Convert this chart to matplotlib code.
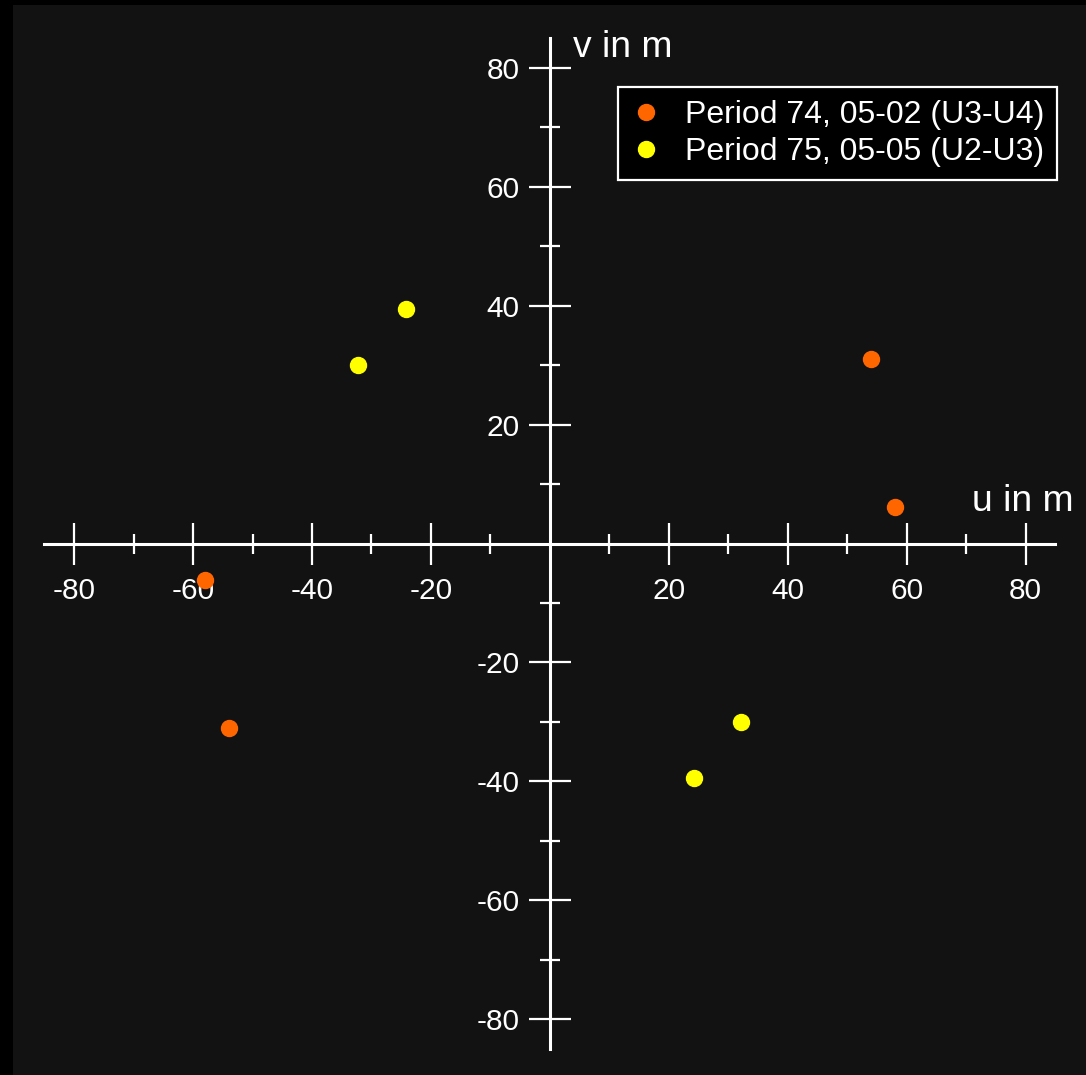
import matplotlib.pyplot as plt
import numpy as np

plt.rcParams["font.family"] = ["Liberation Sans", "DejaVu Sans"]
plt.rcParams["axes.unicode_minus"] = False

# uv coverage, baselines in metres
u_p74 = [54.0, 58.0, -58.0, -54.0]
v_p74 = [31.1, 6.1, -6.1, -31.1]
u_p75 = [-24.2, -32.2, 24.2, 32.2]
v_p75 = [39.5, 30.1, -39.5, -30.1]

labels = ["Period 74, 05-02 (U3-U4)", "Period 75, 05-05 (U2-U3)"]
major_ticks = [-80, -60, -40, -20, 20, 40, 60, 80]
minor_ticks = [-70, -50, -30, -10, 10, 30, 50, 70]

W, H = 1086, 1075
fig = plt.figure(figsize=(W / 100, H / 100), dpi=100, facecolor="black")
ax = fig.add_axes([13 / W, 0, 1 - 13 / W, 1 - 5 / H])
ax.set_facecolor("#121212")

ax.plot(u_p74, v_p74, "o", color="#ff6600", ms=11.5, label=labels[0], zorder=3)
ax.plot(u_p75, v_p75, "o", color="#ffff00", ms=11.5, label=labels[1], zorder=3)

ax.set_xlim(-90.27, 90.13)
ax.set_ylim(-89.42, 90.6)

for side in ["top", "right"]:
    ax.spines[side].set_visible(False)
for side in ["left", "bottom"]:
    ax.spines[side].set_position(("data", 0))
    ax.spines[side].set_bounds(-85, 85)
    ax.spines[side].set_color("white")
    ax.spines[side].set_linewidth(2.2)

ax.set_xticks(major_ticks)
ax.set_yticks(major_ticks)
ax.set_xticks(minor_ticks, minor=True)
ax.set_yticks(minor_ticks, minor=True)
ax.tick_params(which="major", direction="inout", length=30, width=1.6,
               color="white", labelcolor="white", labelsize=21.5)
ax.tick_params(which="minor", direction="inout", length=15, width=1.6, color="white")
ax.tick_params(axis="x", which="major", pad=9)
ax.tick_params(axis="y", which="major", pad=7)

ax.text(3.9, 81.8, "v in m", color="white", fontsize=26.8, ha="left", va="baseline")
ax.text(71.0, 5.5, "u in m", color="white", fontsize=26.8, ha="left", va="baseline")

leg = ax.legend(loc="upper right", bbox_to_anchor=(1057 / W, 1 - 87 / H),
                bbox_transform=fig.transFigure, borderaxespad=0, fontsize=23,
                numpoints=1, fancybox=False, framealpha=1, facecolor="black",
                edgecolor="white", borderpad=0.4, handlelength=0.95,
                handletextpad=0.74, labelspacing=0.22)
leg.get_frame().set_linewidth(1.6)
for t in leg.get_texts():
    t.set_color("white")

fig.savefig("out.png", dpi=100, facecolor=fig.get_facecolor())
